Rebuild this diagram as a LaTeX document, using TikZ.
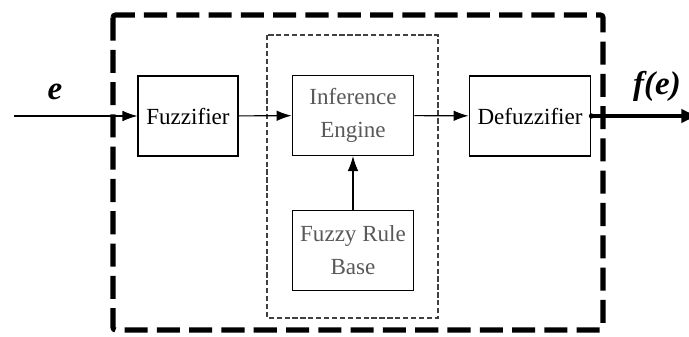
\documentclass[tikz,border=0pt]{standalone}
\usepackage{fontspec}
\setmainfont{Liberation Serif}
\usetikzlibrary{arrows.meta}
\tikzset{
	blk/.style={draw=black, line width=0.5pt, minimum height=12.8mm, inner sep=0pt, align=center, font=\fontsize{10.5}{15}\selectfont},
	flow/.style={-{Latex[length=2.4mm,width=1.7mm]}, line width=0.5pt},
	sig/.style={font=\fontsize{15}{17}\selectfont\bfseries\itshape}
}
\begin{document}
\begin{tikzpicture}[x=0.16mm,y=-0.16mm]
	\useasboundingbox (0,0) rectangle (689,336);
	% controller frame and rule block frame
	\draw [line width=2.3pt, dash pattern=on 10.5pt off 4.2pt, rounded corners=0.4mm] (113,15) rectangle (603,330);
	\draw [line width=0.5pt, black!75, dash pattern=on 2.4pt off 1.2pt] (267,35) rectangle (438,318);
	% blocks
	\node [blk, minimum width=16mm] (fuzz) at (188,116) {Fuzzifier};
	\node [blk, minimum width=19.5mm, text=black!65] (inf) at (353,115.5) {Inference\\Engine};
	\node [blk, minimum width=19.5mm, text=black!65] (rule) at (353,250.5) {Fuzzy Rule\\Base};
	\node [blk, minimum width=19.5mm] (defuzz) at (530,116) {Defuzzifier};
	% signals
	\coordinate (in) at (14,116);
	\coordinate (out) at (700,116);
	\node [sig] (e) at (55,92) {e};
	\node [sig] (fe) at (657,86) {f(e)};
	\draw [flow] (in) -- (fuzz);
	\draw [flow] (fuzz) -- (inf);
	\draw [flow] (inf) -- (defuzz);
	\draw [flow] (rule) -- (inf);
	\draw [line width=1.6pt, -{Latex[length=3mm,width=2.4mm]}] (defuzz.east) -- (out);
	\fill (defuzz.east) circle (1.2pt);
\end{tikzpicture}
\end{document}
